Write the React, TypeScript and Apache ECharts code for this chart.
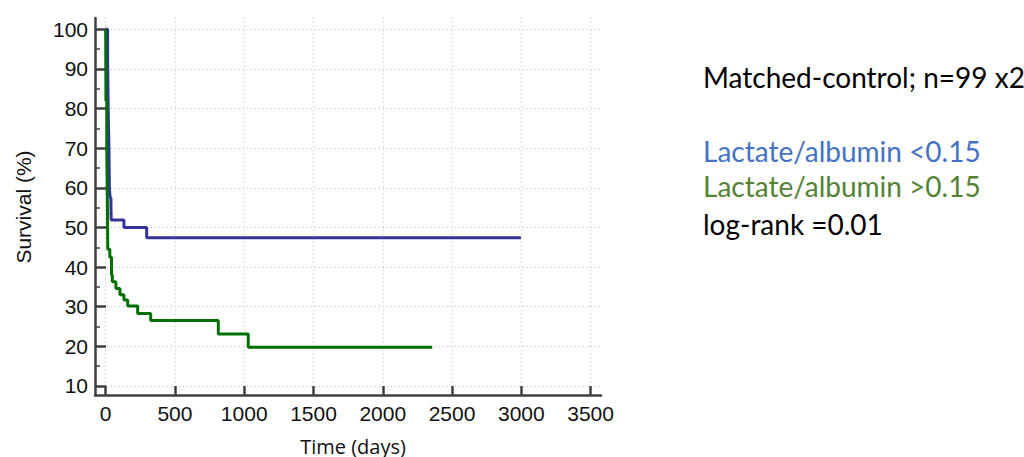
import React, { useEffect, useRef } from "react";
import * as echarts from "echarts";

const xTicks = [0, 500, 1000, 1500, 2000, 2500, 3000, 3500];
const yTicks = [10, 20, 30, 40, 50, 60, 70, 80, 90, 100];
const yMinorTicks = [15, 25, 35, 45, 55, 65, 75, 85, 95];

const blueDays = [0, 14, 19, 24, 27, 32, 38, 40, 132, 296, 2997];
const blueSurvival = [100, 92.6, 78, 69.5, 60, 57.5, 55, 51.9, 50.0, 47.4, 47.4];

const greenDays = [0, 2, 8, 12, 14, 15, 30, 42, 48, 74, 103, 132, 159, 231, 325, 813, 1029, 2357];
const greenSurvival = [100, 82, 70, 58, 50, 44.5, 42.5, 38, 36.3, 34.6, 33.0, 31.7, 30.2, 28.3, 26.5, 23.1, 19.8, 19.8];

const titleText = "Matched-control; n=99 x2";
const blueLabel = "Lactate/albumin <0.15";
const greenLabel = "Lactate/albumin >0.15";
const statText = "log-rank =0.01";
const xName = "Time (days)";
const yName = "Survival (%)";

export default function App() {
  const ref = useRef<HTMLDivElement>(null);
  useEffect(() => {
    if (!ref.current) return;
    const chart = echarts.init(ref.current, undefined, { renderer: "svg" });
    const axisColor = "#404040";
    const labelFont = { fontFamily: "Liberation Sans", fontSize: 21, color: "#111" };
    const rightFont = "Lato";
    const plain = (v: number) => String(v);
    chart.setOption({
      animation: false,
      backgroundColor: "#fff",
      grid: { left: 95, top: 18, width: 506, height: 377, containLabel: false },
      xAxis: {
        type: "value",
        min: -77,
        max: 3575,
        axisLine: { show: true, onZero: false, lineStyle: { color: axisColor, width: 2.5 } },
        axisTick: { show: true, inside: true, length: 9, customValues: xTicks, lineStyle: { color: axisColor, width: 2.5 } },
        axisLabel: { show: true, customValues: xTicks, margin: 8, formatter: plain, ...labelFont },
        splitLine: { show: true, lineStyle: { color: "#c4c4c4", type: [1, 3], width: 1 } },
      },
      yAxis: [
        {
          type: "value",
          min: 7.72,
          max: 102.85,
          axisLine: { show: true, onZero: false, lineStyle: { color: axisColor, width: 2.5 } },
          axisTick: { show: true, inside: true, length: 11, customValues: yTicks, lineStyle: { color: axisColor, width: 2.5 } },
          axisLabel: { show: true, customValues: yTicks, margin: 7, formatter: plain, ...labelFont },
          splitLine: { show: true, lineStyle: { color: "#c4c4c4", type: [1, 3], width: 1 } },
        },
        {
          type: "value",
          min: 7.72,
          max: 102.85,
          position: "left",
          axisLine: { show: false, onZero: false },
          axisTick: { show: true, inside: true, length: 5, customValues: yMinorTicks, lineStyle: { color: axisColor, width: 1.5 } },
          axisLabel: { show: false },
          splitLine: { show: false },
        },
      ],
      series: [
        {
          name: blueLabel,
          type: "line",
          step: "end",
          showSymbol: false,
          data: blueDays.map((d, i) => [d, blueSurvival[i]]),
          lineStyle: { color: "#33339a", width: 3 },
          itemStyle: { color: "#33339a" },
          z: 3,
        },
        {
          name: greenLabel,
          type: "line",
          step: "end",
          showSymbol: false,
          data: greenDays.map((d, i) => [d, greenSurvival[i]]),
          lineStyle: { color: "#006e00", width: 3 },
          itemStyle: { color: "#006e00" },
          z: 4,
        },
      ],
      graphic: [
        {
          type: "text",
          x: 353,
          y: 446,
          style: { text: xName, fontFamily: "Open Sans", fontSize: 20, fill: "#111", align: "center", verticalAlign: "middle" },
        },
        {
          type: "text",
          x: 23,
          y: 207,
          rotation: Math.PI / 2,
          style: { text: yName, fontFamily: "Liberation Sans", fontSize: 21, fill: "#111", align: "center", verticalAlign: "middle" },
        },
        {
          type: "text",
          x: 703,
          y: 77,
          style: { text: titleText, fontFamily: rightFont, fontSize: 28, fill: "#000", align: "left", verticalAlign: "middle" },
        },
        {
          type: "text",
          x: 703,
          y: 151,
          style: { text: blueLabel, fontFamily: rightFont, fontSize: 28, fill: "#4472c4", align: "left", verticalAlign: "middle" },
        },
        {
          type: "text",
          x: 703,
          y: 186,
          style: { text: greenLabel, fontFamily: rightFont, fontSize: 28, fill: "#548235", align: "left", verticalAlign: "middle" },
        },
        {
          type: "text",
          x: 703,
          y: 224,
          style: { text: statText, fontFamily: rightFont, fontSize: 28, fill: "#000", align: "left", verticalAlign: "middle" },
        },
      ],
    });
    return () => chart.dispose();
  }, []);
  return (
    <div
      ref={ref}
      style={{ position: "fixed", left: 0, top: 0, width: 1024, height: 457, background: "#fff" }}
    />
  );
}
